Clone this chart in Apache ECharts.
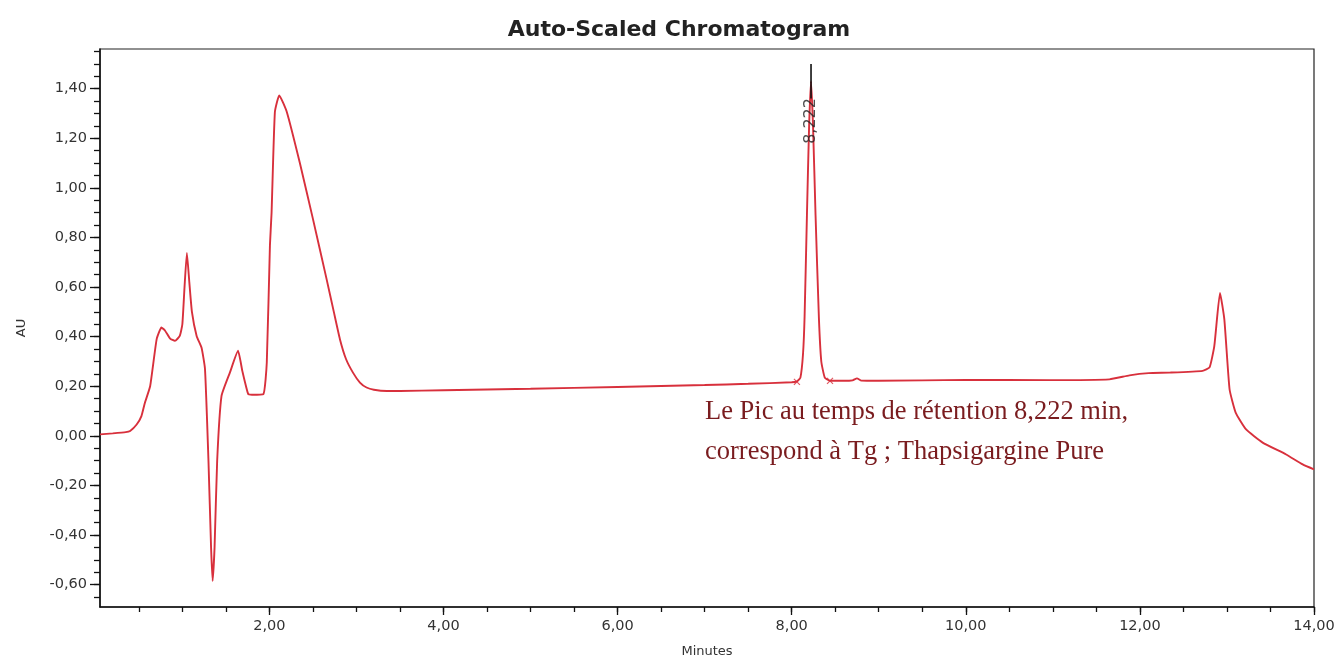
<!DOCTYPE html>
<html><head><meta charset="utf-8">
<script src="https://cdn.jsdelivr.net/npm/echarts@6/dist/echarts.min.js"></script>
<style>html,body{margin:0;padding:0;background:#fff}#c{width:1342px;height:657px}</style>
</head><body><div id="c"></div>
<script>
// ---- data ----
const times = [0.054,0.2,0.35,0.40,0.475,0.53,0.57,0.63,0.705,0.76,0.80,0.86,0.915,0.97,1.0,1.025,1.052,1.08,1.11,1.164,1.22,1.26,1.30,1.33,1.348,1.37,1.40,1.45,1.546,1.64,1.69,1.757,1.80,1.93,1.97,2.006,2.025,2.063,2.113,2.2,2.35,2.50,2.657,2.74,2.81,2.88,2.96,3.04,3.116,3.2,3.35,3.5,4.0,5.0,6.0,7.0,7.5,8.0,8.06,8.10,8.13,8.148,8.175,8.20,8.222,8.245,8.274,8.312,8.34,8.38,8.44,8.6,8.7,8.75,8.8,9.0,10.0,10.96,11.65,11.88,12.1,12.34,12.72,12.80,12.855,12.92,12.97,13.03,13.10,13.22,13.41,13.68,13.87,14.0];
const absorbance = [0.006,0.010,0.015,0.020,0.046,0.080,0.134,0.200,0.390,0.437,0.425,0.392,0.383,0.403,0.45,0.60,0.738,0.62,0.50,0.403,0.356,0.27,-0.10,-0.45,-0.585,-0.45,-0.10,0.161,0.255,0.343,0.26,0.168,0.166,0.168,0.296,0.767,0.90,1.306,1.373,1.306,1.10,0.875,0.632,0.50,0.39,0.31,0.255,0.215,0.195,0.186,0.181,0.181,0.184,0.190,0.197,0.205,0.210,0.216,0.220,0.235,0.33,0.48,0.89,1.25,1.43,1.25,0.89,0.48,0.30,0.235,0.222,0.222,0.224,0.232,0.223,0.222,0.226,0.225,0.228,0.244,0.253,0.255,0.262,0.276,0.363,0.576,0.47,0.188,0.094,0.026,-0.027,-0.075,-0.115,-0.135];
const xLabelValues = [2,4,6,8,10,12,14];
const xTickValues = [0.5,1,1.5,2,2.5,3,3.5,4,4.5,5,5.5,6,6.5,7,7.5,8,8.5,9,9.5,10,10.5,11,11.5,12,12.5,13,13.5,14];
const yLabelValues = [-0.6,-0.4,-0.2,0,0.2,0.4,0.6,0.8,1.0,1.2,1.4];
const yTickValues = [-0.65,-0.6,-0.55,-0.5,-0.45,-0.4,-0.35,-0.3,-0.25,-0.2,-0.15,-0.1,-0.05,0,0.05,0.1,0.15,0.2,0.25,0.3,0.35,0.4,0.45,0.5,0.55,0.6,0.65,0.7,0.75,0.8,0.85,0.9,0.95,1.0,1.05,1.1,1.15,1.2,1.25,1.3,1.35,1.4,1.45,1.5,1.55];
const peakTime = 8.222;
const peakLabel = '8,222';
const peakLabelLevel = 1.27;
const peakMarkerTop = [1.36, 1.50];
const baselineMarkers = [[8.06, 0.218], [8.44, 0.222]];
const titleText = 'Auto-Scaled Chromatogram';
const noteLines = ['Le Pic au temps de rétention 8,222 min,', 'correspond à Tg ; Thapsigargine Pure'];

const X_MIN = 0.054, X_MAX = 14, Y_MIN = -0.69, Y_MAX = 1.56;
const fmt = v => v.toFixed(2).replace('.', ',');
const seriesData = times.map((t, i) => [t, absorbance[i]]);
const labelFont = { fontFamily: 'DejaVu Sans', fontSize: 14.5, color: '#333' };

const chart = echarts.init(document.getElementById('c'), null, { renderer: 'canvas' });
chart.setOption({
  animation: false,
  backgroundColor: '#fff',
  title: {
    text: titleText, left: 674, textAlign: 'center', top: 14,
    textStyle: { fontFamily: 'DejaVu Sans', fontWeight: 'bold', fontSize: 22, color: '#222' }
  },
  grid: { left: 100, right: 28, top: 49, bottom: 50, show: true, borderColor: '#222', borderWidth: 1.2, backgroundColor: 'transparent', outerBoundsMode: 'none', containLabel: false },
  xAxis: [
    {
      type: 'value', min: X_MIN, max: X_MAX, position: 'bottom',
      name: 'Minutes', nameLocation: 'middle', nameGap: 38,
      nameTextStyle: { fontFamily: 'DejaVu Sans', fontSize: 13, color: '#333' },
      axisLine: { show: true, onZero: false, lineStyle: { color: '#111', width: 1.5 } },
      axisTick: { show: true, length: 8, customValues: xLabelValues, lineStyle: { color: '#111', width: 1.3 } },
      axisLabel: { show: true, customValues: xLabelValues, formatter: fmt, margin: 12, ...labelFont },
      splitLine: { show: false }
    },
    {
      type: 'value', min: X_MIN, max: X_MAX, position: 'bottom',
      axisLine: { show: false, onZero: false },
      axisTick: { show: true, length: 5, customValues: xTickValues, lineStyle: { color: '#111', width: 1.3 } },
      axisLabel: { show: false }, splitLine: { show: false }
    }
  ],
  yAxis: [
    {
      type: 'value', min: Y_MIN, max: Y_MAX, position: 'left',
      name: 'AU', nameLocation: 'middle', nameGap: 72, nameRotate: 90,
      nameTextStyle: { fontFamily: 'DejaVu Sans', fontSize: 13, color: '#333' },
      axisLine: { show: true, onZero: false, lineStyle: { color: '#111', width: 1.5 } },
      axisTick: { show: true, length: 10, customValues: yLabelValues, lineStyle: { color: '#111', width: 1.3 } },
      axisLabel: { show: true, customValues: yLabelValues, formatter: fmt, margin: 13, ...labelFont },
      splitLine: { show: false }
    },
    {
      type: 'value', min: Y_MIN, max: Y_MAX, position: 'left',
      axisLine: { show: false, onZero: false },
      axisTick: { show: true, length: 6, customValues: yTickValues, lineStyle: { color: '#111', width: 1.3 } },
      axisLabel: { show: false }, splitLine: { show: false }
    }
  ],
  graphic: [
    {
      type: 'text', left: 705, top: 392,
      style: {
        text: noteLines.join('\n'), fill: '#7a1c1f',
        fontFamily: 'Liberation Serif', fontSize: 26.5, lineHeight: 40
      }
    }
  ],
  series: [
    {
      type: 'line', data: seriesData, xAxisIndex: 0, yAxisIndex: 0,
      showSymbol: false, smooth: 0.15,
      lineStyle: { color: '#d8303c', width: 1.9 }, z: 3
    },
    {
      type: 'line', data: [[peakTime, peakMarkerTop[0]], [peakTime, peakMarkerTop[1]]],
      showSymbol: false, lineStyle: { color: '#111', width: 1.6 }, z: 4
    },
    {
      type: 'scatter', data: [[peakTime, peakLabelLevel]], symbolSize: 0, z: 5,
      label: {
        show: true, formatter: peakLabel, rotate: 90, position: 'inside',
        fontFamily: 'DejaVu Sans', fontSize: 16, color: '#222'
      }
    },
    {
      type: 'scatter', data: baselineMarkers, symbol: 'path://M0,0L10,10M10,0L0,10',
      symbolSize: 6, itemStyle: { color: 'none', borderColor: '#d8303c', borderWidth: 1.2 }, z: 5
    }
  ]
});
</script></body></html>
